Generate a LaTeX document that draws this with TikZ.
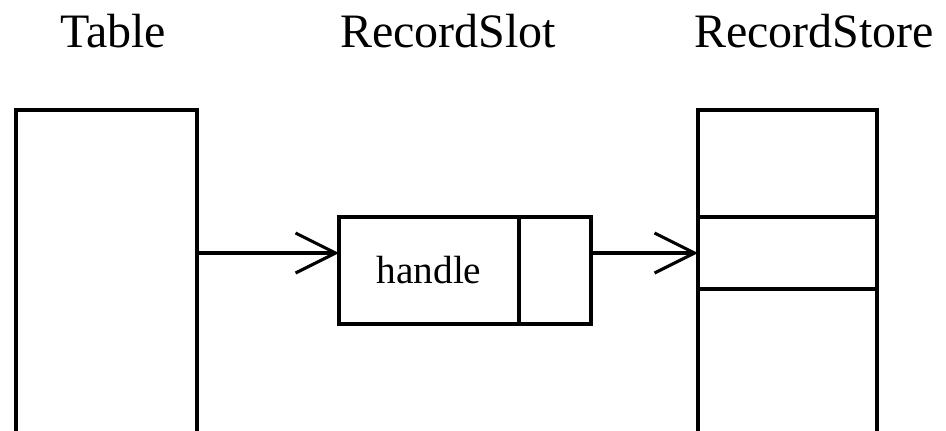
\documentclass[tikz,border=0pt]{standalone}
\usepackage{fontspec}
\setmainfont{Liberation Serif}
\usetikzlibrary{arrows.meta}
\begin{document}
\begin{tikzpicture}[x=0.75pt,y=-0.75pt,
  line width=2.3pt,
  cell/.style={draw, line width=2.3pt, inner sep=0pt, outer sep=0pt, anchor=north west},
  heading/.style={font=\fontsize{36}{40}\selectfont, anchor=base, inner sep=0pt},
  link/.style={-{Straight Barb[length=30pt,width=30pt,line width=2.3pt]}}]
\useasboundingbox (0,0) rectangle (946,430);
\clip (0,0) rectangle (946,430);

% column headings
\node[heading] (tabTitle)   at (113,47) {Table};
\node[heading] (slotTitle)  at (448,47) {RecordSlot};
\node[heading] (storeTitle) at (814,47) {RecordStore};

% table column (runs off the bottom)
\node[cell, minimum width=181*0.75pt, minimum height=360*0.75pt] (table) at (16,110) {};

% record slot: handle field and pointer field
\node[cell, minimum width=180*0.75pt, minimum height=107*0.75pt,
      font=\fontsize{29.5}{32}\selectfont] (handle) at (339,217) {handle};
\node[cell, minimum width=72*0.75pt, minimum height=107*0.75pt] (ptr) at (519,217) {};

% record store cells
\node[cell, minimum width=179*0.75pt, minimum height=107*0.75pt] (storeTop) at (698,110) {};
\node[cell, minimum width=179*0.75pt, minimum height=72*0.75pt] (storeMid) at (698,217) {};
\node[cell, minimum width=179*0.75pt, minimum height=200*0.75pt] (storeBot) at (698,289) {};

% references
\draw[link] (table.east |- storeMid.west) -- (handle.west |- storeMid.west);
\draw[link] (ptr.east |- storeMid.west) -- (storeMid.west);
\end{tikzpicture}
\end{document}
